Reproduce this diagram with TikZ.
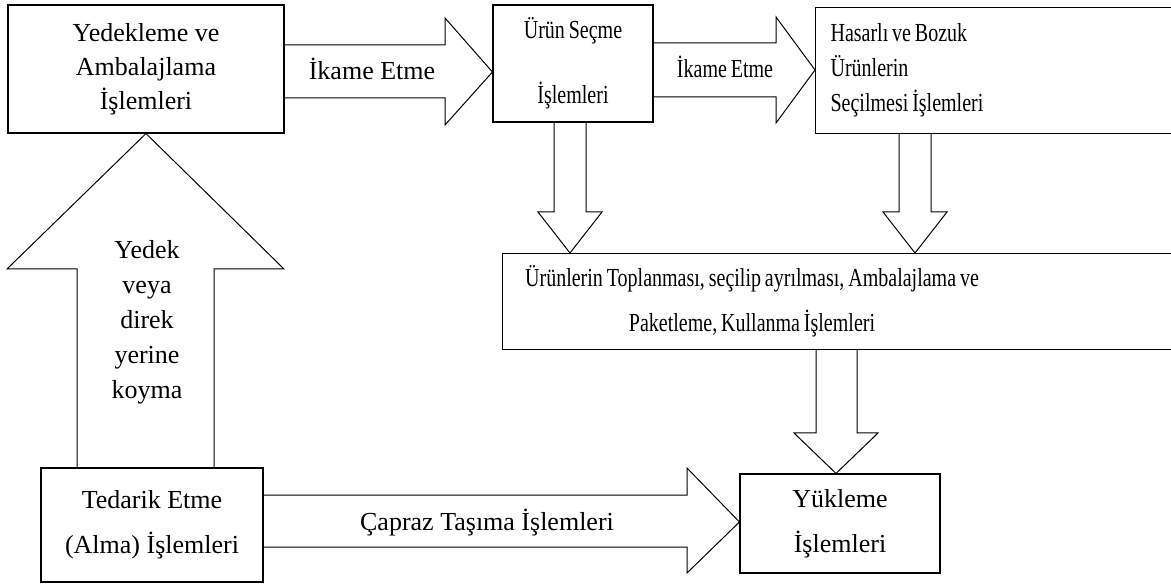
\documentclass[tikz,border=0pt]{standalone}
\usepackage{fontspec}
\setmainfont{Liberation Serif}
\newfontfamily\narrowserif{Liberation Serif}[FakeStretch=0.77, WordSpace=0.77]
\usetikzlibrary{positioning}

\tikzset{
    box/.style={draw, line width=1.1pt, rectangle, inner sep=0pt, align=center, font=\fontsize{26}{34}\selectfont},
    blockarrow/.style={draw, line width=1pt, line join=miter},
    lbl/.style={inner sep=0pt, align=center, font=\fontsize{26}{34}\selectfont}
}

\begin{document}
\begin{tikzpicture}[x=1pt, y=-1pt]
    % Fix the picture size
    \useasboundingbox (0,0) rectangle (1171,585);

    % Draw the boxes
    \node[box, minimum width=276, minimum height=128] (b1) at (146,69) {Yedekleme ve\\Ambalajlama\\İşlemleri};
    \node[box, minimum width=160, minimum height=117, font=\narrowserif\fontsize{26}{65}\selectfont] (b2) at (573,63.5) {Ürün Seçme\\İşlemleri};
    \node[box, anchor=north west, minimum height=126, text width=350, inner xsep=15, align=left, font=\narrowserif\fontsize{26}{35}\selectfont] (b3) at (815,7) {\spaceskip0pt\relax Hasarlı ve Bozuk\\Ürünlerin\\Seçilmesi İşlemleri};
    \node[box, anchor=north west, minimum width=700, minimum height=96] (b4) at (502,253) {};
    \node[lbl, font=\narrowserif\fontsize{26}{45}\selectfont] (t4) at (752,301) {Ürünlerin Toplanması, seçilip ayrılması, Ambalajlama ve\\Paketleme, Kullanma İşlemleri};
    \node[box, minimum width=222, minimum height=114, font=\fontsize{26}{45}\selectfont] (b5) at (152,525) {Tedarik Etme\\(Alma) İşlemleri};
    \node[box, minimum width=200, minimum height=99, font=\fontsize{26}{45}\selectfont] (b6) at (840,523.5) {Yükleme\\İşlemleri};

    % Block arrows between the boxes
    \draw[blockarrow] (b1.east |- 0,45) -- (445,45) -- (445,18) -- (b2.west |- 0,72) -- (445,125) -- (445,98) -- (b1.east |- 0,98);
    \draw[blockarrow] (b2.east |- 0,43) -- (776,43) -- (776,17) -- (b3.west |- 0,70) -- (776,123) -- (776,97) -- (b2.east |- 0,97);
    \draw[blockarrow] (b2.south -| 554,0) -- (554,212) -- (538,212) -- (b4.north -| 570,0) -- (602,212) -- (586,212) -- (b2.south -| 586,0);
    \draw[blockarrow] (b3.south -| 899,0) -- (899,212) -- (883,212) -- (b4.north -| 915,0) -- (947,212) -- (931,212) -- (b3.south -| 931,0);
    \draw[blockarrow] (b4.south -| 816,0) -- (816,433) -- (794,433) -- (b6.north -| 836,0) -- (878,433) -- (857,433) -- (b4.south -| 857,0);
    \draw[blockarrow] (b5.north -| 77,0) -- (77,269) -- (7,269) -- (b1.south -| 146,0) -- (284,269) -- (214,269) -- (b5.north -| 214,0);
    \draw[blockarrow] (b5.east |- 0,495) -- (687,495) -- (687,468) -- (b6.west |- 0,522) -- (687,573) -- (687,547) -- (b5.east |- 0,547);

    % Arrow labels
    \node[lbl, anchor=base] (l1) at (372,80) {İkame Etme};
    \node[lbl, anchor=base, font=\narrowserif\fontsize{26}{34}\selectfont] (l2) at (725,78) {İkame Etme};
    \node[lbl, anchor=base] (l3) at (487,530) {Çapraz Taşıma İşlemleri};
    \node[lbl, font=\fontsize{26}{35}\selectfont] (l4) at (147,322) {Yedek\\veya\\direk\\yerine\\koyma};
\end{tikzpicture}
\end{document}
